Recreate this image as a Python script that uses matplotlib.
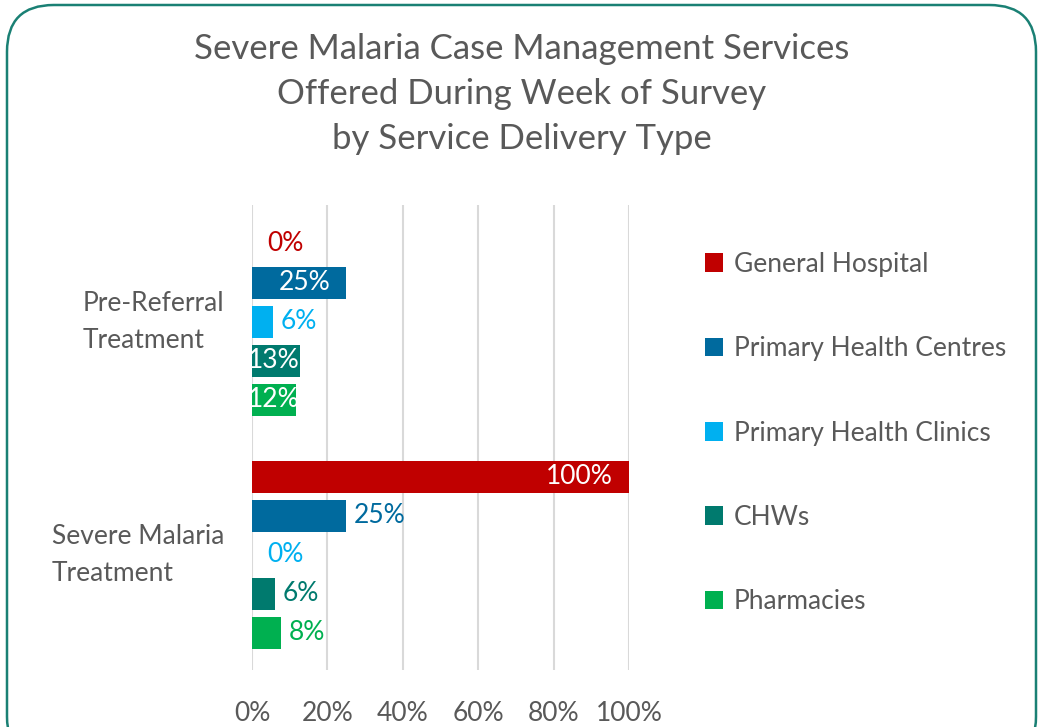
import matplotlib
matplotlib.use("Agg")
import matplotlib.pyplot as plt
from matplotlib.patches import FancyBboxPatch, Patch
from matplotlib.transforms import ScaledTranslation
import numpy as np

plt.rcParams['font.family'] = ['Lato', 'DejaVu Sans']

categories = ["Pre-Referral\nTreatment", "Severe Malaria\nTreatment"]
series = ["General Hospital", "Primary Health Centres", "Primary Health Clinics", "CHWs", "Pharmacies"]
values = {
    "General Hospital":       [0, 100],
    "Primary Health Centres": [25, 25],
    "Primary Health Clinics": [5.6, 0],
    "CHWs":                   [12.6, 6.2],
    "Pharmacies":             [11.6, 7.7],
}
# label placement: True = inside end (white), False = outside end (series colour)
inside = {
    "General Hospital":       [False, True],
    "Primary Health Centres": [True, False],
    "Primary Health Clinics": [False, False],
    "CHWs":                   [True, False],
    "Pharmacies":             [True, False],
}
colors = ["#C00000", "#006A9E", "#00B0F0", "#007A6E", "#00B050"]
xticks = [0, 20, 40, 60, 80, 100]
xtick_labels = ["0%", "20%", "40%", "60%", "80%", "100%"]

grey = "#595959"
FS = 19
fig = plt.figure(figsize=(10.38, 7.27), dpi=100)

border = FancyBboxPatch((7/1038, -0.05), (1036-7)/1038, 1 - 5/727 + 0.05,
                        boxstyle="round,pad=0,rounding_size=0.045",
                        transform=fig.transFigure, facecolor="none",
                        edgecolor="#1A8074", linewidth=1.8, mutation_aspect=1038/727,
                        zorder=-1)
fig.patches.append(border)

ax = fig.add_axes([252/1038, 1 - 670/727, (629-252)/1038, (670-205)/727])
ax.set_facecolor("none")

step = 0.1674
height = 0.134
y = np.arange(len(categories))
for i, (s, c) in enumerate(zip(series, colors)):
    pos = y + (i - 2) * step
    vals = values[s]
    bars = ax.barh(pos, vals, height=height, color=c, zorder=3)
    for b, v, p, ins in zip(bars, vals, pos, inside[s]):
        lab = "{:.0f}%".format(v)
        if ins:
            ax.text(max(v - 4.3, 12.7), p, lab, ha="right", va="center", color="white",
                    fontsize=FS, zorder=4)
        else:
            ax.text(v + (2.0 if v > 0 else 4.0), p, lab, ha="left", va="center", color=c,
                    fontsize=FS, zorder=4)

ax.set_xlim(0, 100)
ax.set_ylim(1.494, -0.502)
ax.set_xticks(xticks)
ax.set_xticklabels(xtick_labels)
ax.set_yticks(y)
ax.set_yticklabels(categories)
ax.tick_params(axis="x", length=0, pad=22, labelsize=FS, labelcolor=grey)
ax.tick_params(axis="y", length=0, pad=20, labelsize=FS, labelcolor=grey)
shift = ScaledTranslation(0, 6/72, fig.dpi_scale_trans)
for t in ax.get_yticklabels():
    t.set_multialignment("left")
    t.set_linespacing(1.6)
    t.set_transform(t.get_transform() + shift)
ax.grid(axis="x", color="#D9D9D9", linewidth=1.5, zorder=0)
for sp in ax.spines.values():
    sp.set_visible(False)

fig.text(522/1038, 1 - 94/727,
         "Severe Malaria Case Management Services\nOffered During Week of Survey\nby Service Delivery Type",
         ha="center", va="center", fontsize=25, color=grey, linespacing=1.5)

handles = [Patch(facecolor=c, edgecolor="none") for c in colors]
leg = fig.legend(handles, series, loc="upper left", bbox_to_anchor=(681/1038, 1 - 228/727),
                 frameon=False, fontsize=FS, labelcolor=grey, handlelength=0.7,
                 handleheight=0.7, handletextpad=0.4, labelspacing=2.25)

fig.savefig("out.png", dpi=100)
